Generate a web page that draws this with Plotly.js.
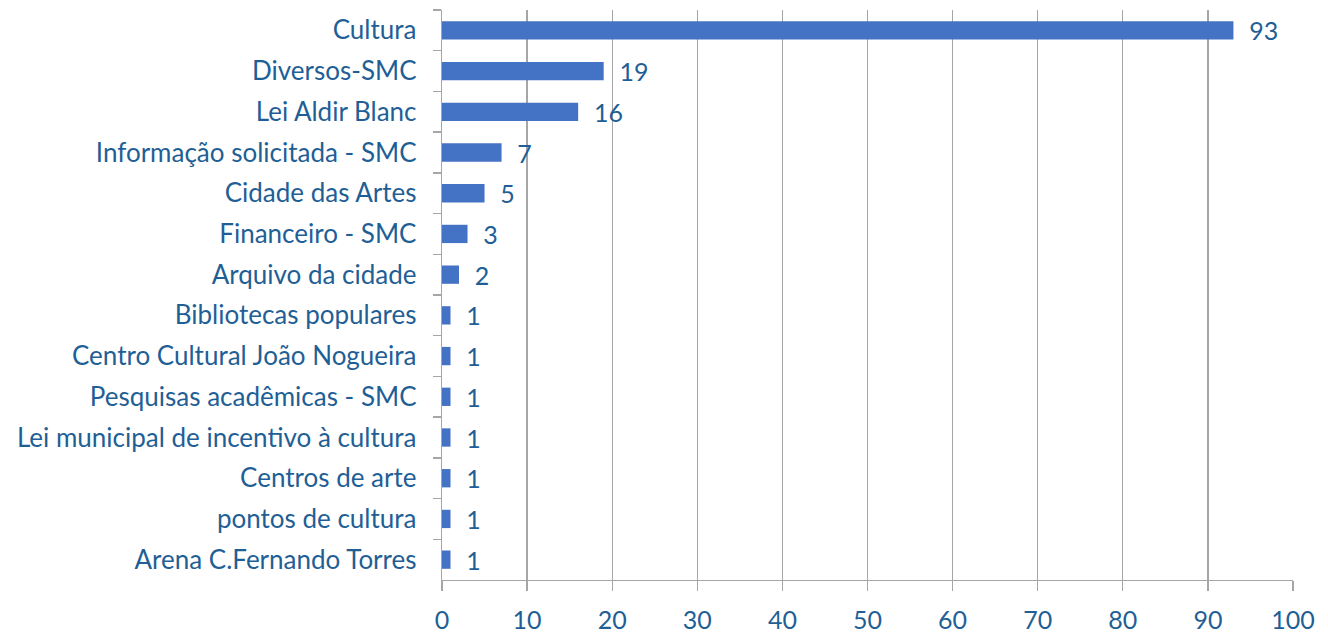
<!DOCTYPE html>
<html><head><meta charset="utf-8">
<script src="https://cdn.plot.ly/plotly-3.0.1.min.js"></script>
<style>html,body{margin:0;padding:0;background:#fff}#chart{width:1328px;height:635px}</style>
</head><body><div id="chart"></div>
<script>
const categories = ["Cultura","Diversos-SMC","Lei Aldir Blanc","Informação solicitada - SMC","Cidade das Artes","Financeiro - SMC","Arquivo da cidade","Bibliotecas populares","Centro Cultural João Nogueira","Pesquisas acadêmicas - SMC","Lei municipal de incentivo à cultura","Centros de arte","pontos de cultura","Arena C.Fernando Torres"];
const values = [93,19,16,7,5,3,2,1,1,1,1,1,1,1];
const xTicks = [0,10,20,30,40,50,60,70,80,90,100];

const blue = "#1F5F96";
const font = "Lato, Open Sans, sans-serif";
const trace = {
  type: "bar", orientation: "h",
  y: categories, x: values,
  marker: {color: "#4472C4"},
  text: values.map(v => "\u00A0\u00A0" + v),
  textposition: "outside",
  constraintext: "none",
  textfont: {family: font, size: 25, color: blue},
  cliponaxis: false,
  hoverinfo: "none"
};
const layout = {
  width: 1328, height: 635,
  margin: {l: 442, r: 35, t: 10, b: 55},
  paper_bgcolor: "#fff", plot_bgcolor: "#fff",
  showlegend: false,
  bargap: 0.55,
  xaxis: {
    range: [0, 100], tickvals: xTicks, ticktext: xTicks.map(String),
    showgrid: true, gridcolor: "#A6A6A6", gridwidth: 1.3,
    zeroline: false, showline: true, linecolor: "#A6A6A6", linewidth: 1.3,
    ticks: "outside", ticklen: 10, tickcolor: "#A6A6A6", tickwidth: 1.3,
    tickfont: {family: font, size: 25, color: blue},
    ticklabelstandoff: 8,
    fixedrange: true
  },
  yaxis: {
    autorange: "reversed", type: "category",
    showgrid: false, zeroline: false,
    showline: true, linecolor: "#A6A6A6", linewidth: 1.3,
    ticks: "outside", tickson: "boundaries", ticklen: 8, tickcolor: "#A6A6A6", tickwidth: 1.3,
    tickfont: {family: font, size: 26, color: blue},
    ticklabelstandoff: 19,
    fixedrange: true
  }
};
Plotly.newPlot("chart", [trace], layout, {displayModeBar: false, staticPlot: true});
</script></body></html>
